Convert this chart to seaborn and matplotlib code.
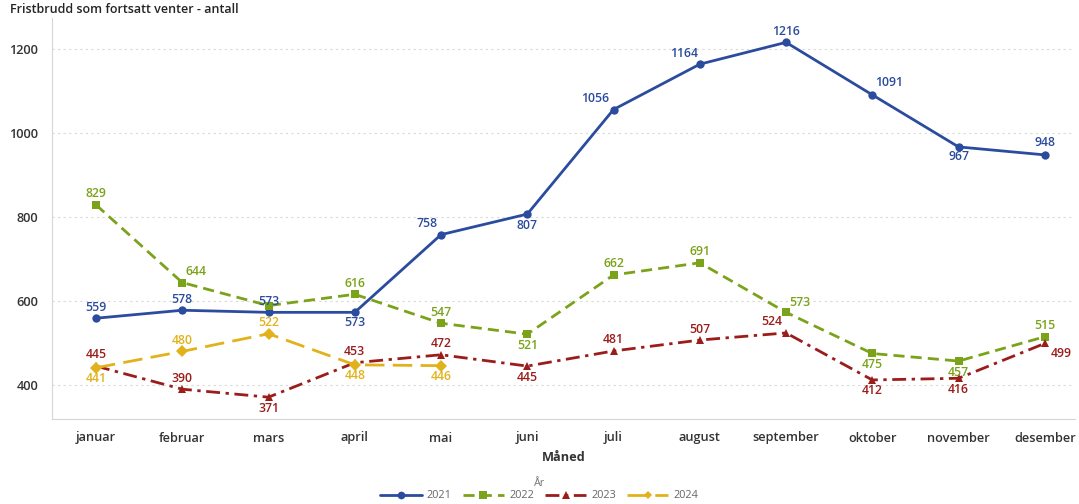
import matplotlib
matplotlib.use("Agg")
import matplotlib.pyplot as plt
import seaborn as sns
import pandas as pd

# Months and values per year
months = ["januar", "februar", "mars", "april", "mai", "juni", "juli",
          "august", "september", "oktober", "november", "desember"]
years = ["2021", "2022", "2023", "2024"]
v2021 = [559, 578, 573, 573, 758, 807, 1056, 1164, 1216, 1091, 967, 948]
v2022 = [829, 644, 589, 616, 547, 521, 662, 691, 573, 475, 457, 515]
v2023 = [445, 390, 371, 453, 472, 445, 481, 507, 524, 412, 416, 499]
v2024 = [441, 480, 522, 448, 446]

series = {"2021": v2021, "2022": v2022, "2023": v2023, "2024": v2024}
colors = {"2021": "#2B4C9E", "2022": "#7BA31A", "2023": "#9B1D1B", "2024": "#E2B21C"}
markers = {"2021": "o", "2022": "s", "2023": "^", "2024": "D"}
dashes = {"2021": "", "2022": (4, 2.2), "2023": (5, 2, 1.2, 2), "2024": (7, 3)}
msize = {"2021": 6.5, "2022": 6.5, "2023": 6.5, "2024": 4.5}

rows = []
for y in years:
    for i, v in enumerate(series[y]):
        rows.append({"År": y, "pos": i, "Måned": months[i], "verdi": v})
df = pd.DataFrame(rows)

# Label placement: (dx px, dy px) relative to the marker; None hides a label
label_pos = {
    "2021": [(0, 11), (0, 11), (0, 11), (0, -10), (-14, 11), (0, -11),
             (-18, 11), (-16, 11), (0, 11), (17, 12), (0, -10), (0, 12)],
    "2022": [(0, 11), (14, 11), None, (0, 11), (0, 11), (0, -11),
             (0, 11), (0, 11), (14, 10), (0, -11), (0, -11), (0, 11)],
    "2023": [(0, 12), (0, 11), (0, -11), (0, 11), (0, 11), (0, -11),
             (0, 11), (0, 11), (-14, 11), (0, -11), (0, -11), (16, -10)],
    "2024": [(0, -11), (0, 11), (0, 11), (0, -11), (0, -11)],
}

sns.set_style("white")
plt.rcParams["font.family"] = ["Open Sans", "DejaVu Sans"]

fig = plt.figure(figsize=(10.79, 5.04), dpi=100)
ax = fig.add_axes([52 / 1079, 1 - 419 / 504, (1075 - 52) / 1079, (419 - 18) / 504])

sns.lineplot(data=df, x="pos", y="verdi", hue="År", style="År",
             hue_order=years, style_order=years, palette=colors,
             markers=markers, dashes=dashes, linewidth=2.0,
             markeredgewidth=0, ax=ax, legend=True)

for line in ax.lines:
    lab = line.get_label()
    if lab in msize:
        line.set_markersize(msize[lab])

px = 72 / 100
for y in years:
    for i, v in enumerate(series[y]):
        p = label_pos[y][i]
        if p is None:
            continue
        ax.annotate(str(v), xy=(i, v), xytext=(p[0] * px, p[1] * px),
                    textcoords="offset points", ha="center", va="center",
                    fontsize=8.8, fontweight="semibold", color=colors[y])

ax.set_xlim(-0.51, 11.35)
ax.set_ylim(319, 1274)
ax.set_xticks(range(len(months)))
ax.set_xticklabels(months)
ax.set_yticks([400, 600, 800, 1000, 1200])
ax.grid(axis="y", color="#d9d9d9", linestyle=(0, (2, 3)), linewidth=0.8)
ax.grid(axis="x", visible=False)
for s in ["top", "right"]:
    ax.spines[s].set_visible(False)
for s in ["left", "bottom"]:
    ax.spines[s].set_color("#d6d6d6")
    ax.spines[s].set_linewidth(0.8)
ax.tick_params(axis="y", length=6, color="#d9d9d9", labelsize=9.2,
               labelcolor="#333333", pad=4)
ax.tick_params(axis="x", length=4, color="#d9d9d9", labelsize=9.2,
               labelcolor="#333333", pad=5)
for t in ax.get_xticklabels() + ax.get_yticklabels():
    t.set_fontweight("semibold")
ax.set_xlabel("Måned", fontsize=9.2, fontweight="bold", color="#333333", labelpad=5)
ax.set_ylabel("")

handles, labels = ax.get_legend_handles_labels()
ax.get_legend().remove()
for h in handles:
    lab = h.get_label()
    if lab in msize:
        h.set_markersize(msize[lab] * 0.85)
leg = fig.legend(handles, labels, loc="center", bbox_to_anchor=(0.5, 1 - 496 / 504),
                 ncol=4, frameon=False, fontsize=7.8, handlelength=3.8,
                 columnspacing=1.0, handletextpad=0.5, borderaxespad=0,
                 borderpad=0)
for t in leg.get_texts():
    t.set_color("#666666")
fig.text(0.5, 1 - 484 / 504, "År", ha="center", va="center", fontsize=7.8,
         color="#777777")

fig.text(10 / 1079, 1 - 3 / 504, "Fristbrudd som fortsatt venter - antall",
         ha="left", va="top", fontsize=9, fontweight="semibold", color="#252525")

fig.savefig("out.png", dpi=100, facecolor="white")
